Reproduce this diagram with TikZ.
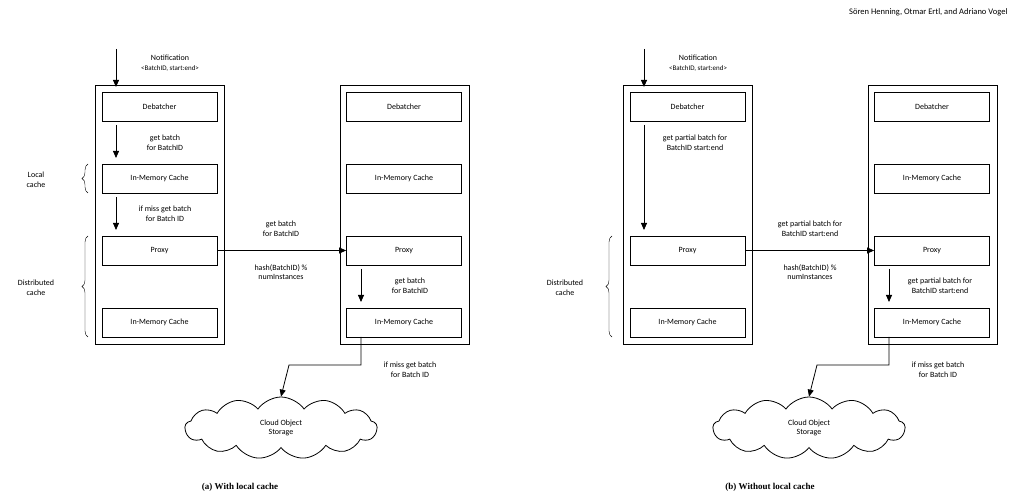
\documentclass[tikz,border=0pt]{standalone}
\usepackage{fontspec}
\setmainfont{Carlito}
\newfontfamily\capfont{Liberation Serif}
\usetikzlibrary{arrows.meta,shapes.symbols,decorations.pathreplacing}

\begin{document}
\begin{tikzpicture}[x=1pt,y=-1pt,font=\fontsize{8}{9.5}\selectfont,
  comp/.style={draw,thick,minimum width=115pt,minimum height=29pt,inner sep=0pt},
  inst/.style={draw,thick},
  flow/.style={-{Triangle[length=7pt,width=6pt]},thick},
  lbl/.style={align=center,inner sep=0pt},
  brc/.style={decorate,decoration={brace,amplitude=6pt}},
  subcap/.style={font=\capfont\bfseries\fontsize{9}{11}\selectfont}]
 \useasboundingbox (0,0) rectangle (1015,502);
 \node[anchor=north east,font=\fontsize{8.5}{10}\selectfont] at (1011,5) {Sören Henning, Otmar Ertl, and Adriano Vogel};
 % (a) with local cache
 \draw[inst] (95,85) rectangle (224,344);
 \draw[inst] (340,85) rectangle (469,344);
 \node[comp] (aDeb) at (159.5,106.5) {Debatcher};
 \node[comp] (aLoc) at (159.5,178.5) {In-Memory Cache};
 \node[comp] (aPrx) at (159.5,250.5) {Proxy};
 \node[comp] (aMem) at (159.5,322.5) {In-Memory Cache};
 \node[comp] (aDeb2) at (404,106.5) {Debatcher};
 \node[comp] (aLoc2) at (404,178.5) {In-Memory Cache};
 \node[comp] (aPrx2) at (404,250.5) {Proxy};
 \node[comp] (aMem2) at (404,322.5) {In-Memory Cache};
 \node[cloud,draw,thick,cloud puffs=13,cloud puff arc=110,aspect=3.3,minimum width=192pt,minimum height=62pt,lbl] (aObj) at (281,428) {Cloud Object\\Storage};
 \coordinate (aIn) at (116,49);
 \coordinate (aOut) at (361,337);
 \draw[flow] (aIn) -- (116,87);
 \node[lbl] at (170,63) {Notification\\{\fontsize{7}{8}\selectfont<BatchID, start:end>}};
 \draw[flow] (116,125) -- (116,158);
 \node[lbl] at (165,143) {get batch\\for BatchID};
 \draw[flow] (116,197) -- (116,230);
 \node[lbl] at (165,214) {if miss get batch\\for Batch ID};
 \draw[flow] (aPrx.east) -- (aPrx2.west);
 \node[lbl] at (281,229) {get batch\\for BatchID};
 \node[lbl] at (281,272) {hash(BatchID) \%\\numInstances};
 \draw[flow] (361,269) -- (361,302);
 \node[lbl] at (410,286) {get batch\\for BatchID};
 \draw[flow] (aOut) |- (289,365) -- (aObj.north);
 \node[lbl] at (410,370) {if miss get batch\\for Batch ID};
 \draw[brc] (88,193) -- (88,164);
 \node[lbl] at (36,180) {Local\\cache};
 \draw[brc] (88,337) -- (88,236);
 \node[lbl] at (36,288) {Distributed\\cache};
 \node[subcap] at (240,487) {(a) With local cache};
 % (b) without local cache
 \draw[inst] (623,85) rectangle (752,344);
 \draw[inst] (868,85) rectangle (997,344);
 \node[comp] (bDeb) at (687.5,106.5) {Debatcher};
 \node[comp] (bPrx) at (687.5,250.5) {Proxy};
 \node[comp] (bMem) at (687.5,322.5) {In-Memory Cache};
 \node[comp] (bDeb2) at (932,106.5) {Debatcher};
 \node[comp] (bLoc2) at (932,178.5) {In-Memory Cache};
 \node[comp] (bPrx2) at (932,250.5) {Proxy};
 \node[comp] (bMem2) at (932,322.5) {In-Memory Cache};
 \node[cloud,draw,thick,cloud puffs=13,cloud puff arc=110,aspect=3.3,minimum width=192pt,minimum height=62pt,lbl] (bObj) at (809,428) {Cloud Object\\Storage};
 \coordinate (bIn) at (644,49);
 \coordinate (bOut) at (889,337);
 \draw[flow] (bIn) -- (644,87);
 \node[lbl] at (698,63) {Notification\\{\fontsize{7}{8}\selectfont<BatchID, start:end>}};
 \draw[flow] (644,125) -- (644,230);
 \node[lbl] at (695,143) {get partial batch for\\BatchID start:end};
 \draw[flow] (bPrx.east) -- (bPrx2.west);
 \node[lbl] at (810,229) {get partial batch for\\BatchID start:end};
 \node[lbl] at (810,272) {hash(BatchID) \%\\numInstances};
 \draw[flow] (889,269) -- (889,302);
 \node[lbl] at (940,286) {get partial batch for\\BatchID start:end};
 \draw[flow] (bOut) |- (817,365) -- (bObj.north);
 \node[lbl] at (938,370) {if miss get batch\\for Batch ID};
 \draw[brc] (612,337) -- (612,236);
 \node[lbl] at (565,288) {Distributed\\cache};
 \node[subcap] at (770,487) {(b) Without local cache};
\end{tikzpicture}
\end{document}
